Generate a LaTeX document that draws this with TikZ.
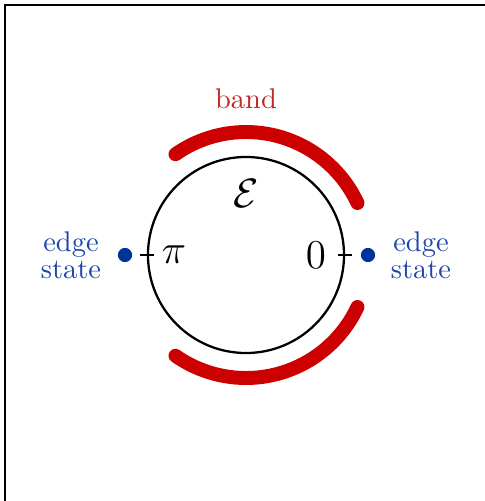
\documentclass[tikz,border=0pt]{standalone}
\usepackage{amsmath}
\usepackage{xcolor}
\usetikzlibrary{positioning}
\definecolor{bandred}{RGB}{204,0,0}
\definecolor{bandtext}{RGB}{190,40,40}
\definecolor{edgeblue}{RGB}{0,51,153}
\definecolor{edgetext}{RGB}{30,70,170}
\begin{document}
\begin{tikzpicture}[
  x=0.01234cm, y=0.01234cm,
  bandarc/.style={bandred,line width=4.9pt,line cap=round},
  edgedot/.style={circle,fill=edgeblue,inner sep=0pt,minimum size=5pt},
  edgelbl/.style={text=edgetext,align=center,inner sep=1pt,font=\fontsize{10}{9.5}\selectfont},
  ticklbl/.style={font=\Large,inner sep=1pt}
]
\useasboundingbox (-246,-246) rectangle (239,255);
\draw[line width=0.7pt] (-241,-246) -- (-241,250) -- (239,250);
% Brillouin zone
\node[circle,draw,line width=0.8pt,minimum size=2.42cm,inner sep=0pt] (bz) at (0,0) {};
\draw[line width=0.7pt] ([xshift=-2.45pt]bz.west) -- ([xshift=2.45pt]bz.west);
\draw[line width=0.7pt] ([xshift=-2.45pt]bz.east) -- ([xshift=2.45pt]bz.east);
\node[ticklbl] (pi) at (-72,0) {$\pi$};
\node[ticklbl] (zero) at (70,0) {$0$};
\node[ticklbl] (en) at (0,62) {$\mathcal{E}$};
% bands
\draw[bandarc] (25:123) arc[start angle=25,end angle=125,radius=123];
\draw[bandarc] (-25:123) arc[start angle=-25,end angle=-125,radius=123];
\node[text=bandtext] (band) at (0,156) {band};
% edge states
\node[edgedot] (dl) at (-121,0) {};
\node[edgedot] (dr) at (122,0) {};
\node[edgelbl] (sl) at (-175,0) {edge\\state};
\node[edgelbl] (sr) at (175,0) {edge\\state};
\end{tikzpicture}
\end{document}
